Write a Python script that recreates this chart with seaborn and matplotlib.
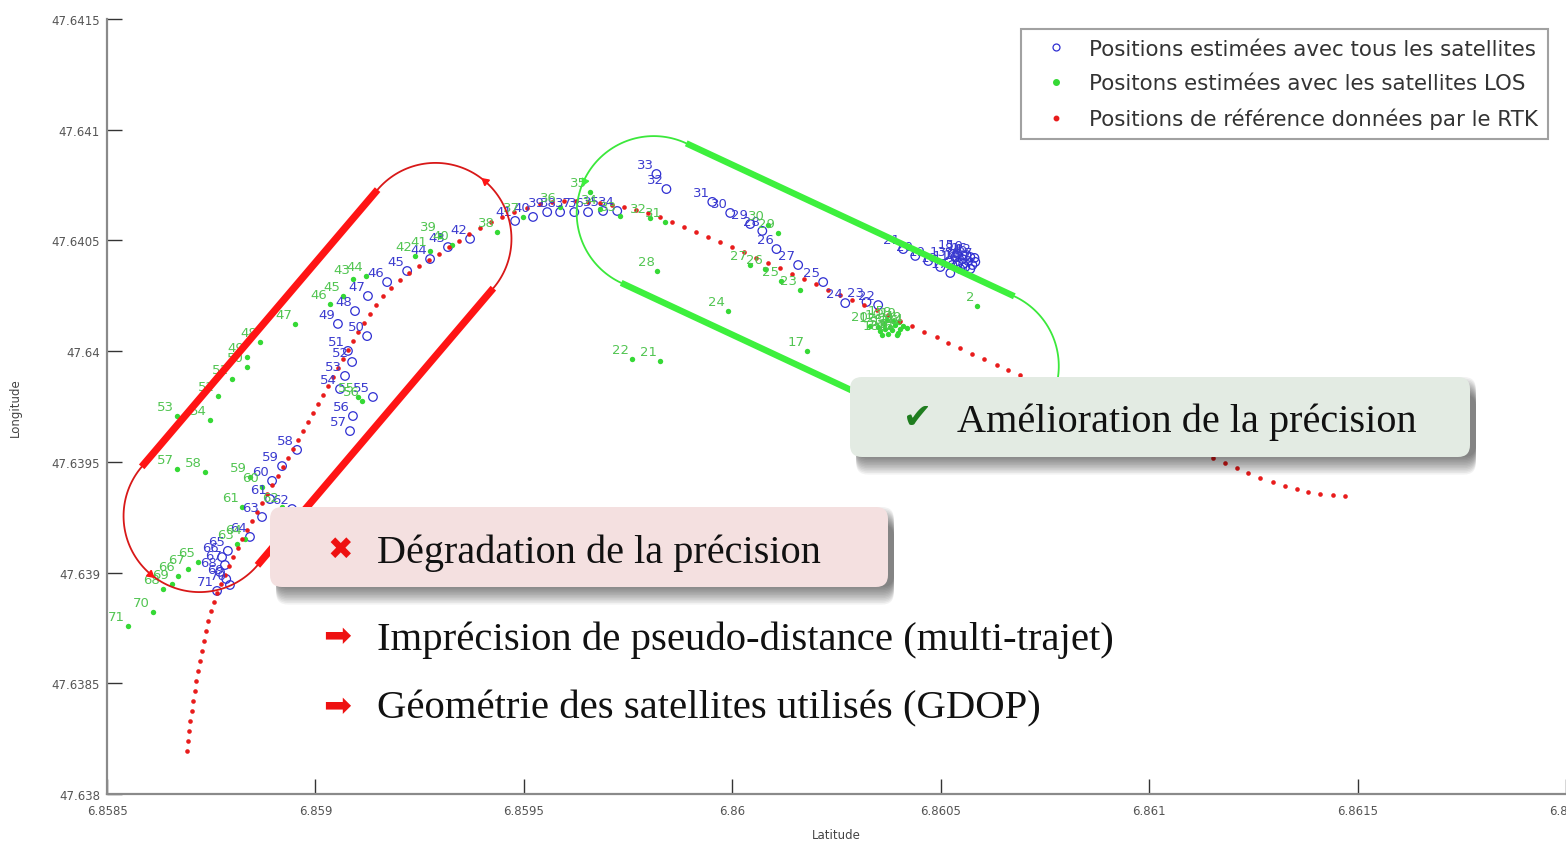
import matplotlib
matplotlib.use("Agg")
import numpy as np
import pandas as pd
import matplotlib.pyplot as plt
import matplotlib.transforms as mtransforms
from matplotlib.patches import FancyBboxPatch
from matplotlib.lines import Line2D
import seaborn as sns

# ---------------------------------------------------------------------------
# Data (degrees)
# ---------------------------------------------------------------------------
# Reference trajectory given by the RTK receiver
rtk_lon = [
    6.858692, 6.858694, 6.858697, 6.858699, 6.858704, 6.858706, 6.858711, 6.858714, 6.858718, 6.858723,
    6.858728, 6.858733, 6.858738, 6.858742, 6.858750, 6.858757, 6.858764, 6.858774, 6.858783, 6.858793,
    6.858802, 6.858814, 6.858824, 6.858836, 6.858848, 6.858860, 6.858872, 6.858884, 6.858896, 6.858910,
    6.858922, 6.858934, 6.858946, 6.858958, 6.858970, 6.858982, 6.858994, 6.859006, 6.859018, 6.859030,
    6.859042, 6.859054, 6.859066, 6.859078, 6.859090, 6.859102, 6.859117, 6.859131, 6.859146, 6.859162,
    6.859182, 6.859203, 6.859225, 6.859249, 6.859273, 6.859297, 6.859321, 6.859345, 6.859369, 6.859395,
    6.859422, 6.859448, 6.859477, 6.859508, 6.859539, 6.859568, 6.859597, 6.859626, 6.859654, 6.859683,
    6.859712, 6.859741, 6.859770, 6.859798, 6.859827, 6.859856, 6.859885, 6.859914, 6.859942, 6.859971,
    6.860000, 6.860029, 6.860058, 6.860086, 6.860115, 6.860144, 6.860173, 6.860202, 6.860230, 6.860259,
    6.860288, 6.860317, 6.860346, 6.860374, 6.860403, 6.860432, 6.860461, 6.860490, 6.860518, 6.860547,
    6.860576, 6.860605, 6.860634, 6.860662, 6.860691, 6.860720, 6.860749, 6.860778, 6.860806, 6.860835,
    6.860864, 6.860893, 6.860922, 6.860950, 6.860979, 6.861008, 6.861037, 6.861066, 6.861094, 6.861123,
    6.861152, 6.861181, 6.861210, 6.861238, 6.861267, 6.861296, 6.861325, 6.861354, 6.861382, 6.861411,
    6.861440, 6.861469,
]
rtk_lat = [
    47.638194, 47.638239, 47.638285, 47.638330, 47.638375, 47.638420, 47.638465, 47.638510, 47.638556, 47.638601,
    47.638646, 47.638691, 47.638736, 47.638781, 47.638827, 47.638867, 47.638908, 47.638948, 47.638989, 47.639030,
    47.639070, 47.639111, 47.639152, 47.639192, 47.639233, 47.639274, 47.639314, 47.639355, 47.639396, 47.639436,
    47.639477, 47.639517, 47.639558, 47.639599, 47.639639, 47.639680, 47.639721, 47.639761, 47.639802, 47.639843,
    47.639883, 47.639924, 47.639965, 47.640005, 47.640046, 47.640086, 47.640127, 47.640168, 47.640208, 47.640249,
    47.640285, 47.640321, 47.640353, 47.640384, 47.640412, 47.640439, 47.640470, 47.640497, 47.640529, 47.640556,
    47.640583, 47.640606, 47.640628, 47.640646, 47.640665, 47.640674, 47.640678, 47.640678, 47.640674, 47.640669,
    47.640660, 47.640651, 47.640637, 47.640624, 47.640606, 47.640583, 47.640561, 47.640538, 47.640516, 47.640493,
    47.640470, 47.640448, 47.640421, 47.640398, 47.640376, 47.640348, 47.640326, 47.640303, 47.640276, 47.640254,
    47.640231, 47.640208, 47.640186, 47.640163, 47.640136, 47.640114, 47.640086, 47.640064, 47.640037, 47.640014,
    47.639987, 47.639965, 47.639937, 47.639915, 47.639892, 47.639865, 47.639843, 47.639820, 47.639797, 47.639775,
    47.639748, 47.639725, 47.639703, 47.639680, 47.639658, 47.639635, 47.639612, 47.639585, 47.639563, 47.639540,
    47.639518, 47.639495, 47.639472, 47.639450, 47.639427, 47.639409, 47.639391, 47.639378, 47.639364, 47.639355,
    47.639350, 47.639346,
]

# Epochs 1..71 estimated with every tracked satellite
all_lon = [
    6.860576, 6.860566, 6.860559, 6.860552, 6.860571, 6.860542, 6.860583, 6.860535, 6.860547, 6.860562,
    6.860528, 6.860581, 6.860521, 6.860554, 6.860540, 6.860571, 6.860523, 6.860499, 6.860470, 6.860439,
    6.860410, 6.860350, 6.860322, 6.860271, 6.860218, 6.860106, 6.860158, 6.860072, 6.860043, 6.859995,
    6.859952, 6.859842, 6.859818, 6.859724, 6.859690, 6.859654, 6.859621, 6.859587, 6.859556, 6.859522,
    6.859479, 6.859371, 6.859318, 6.859275, 6.859220, 6.859172, 6.859126, 6.859095, 6.859054, 6.859124,
    6.859078, 6.859088, 6.859071, 6.859059, 6.859138, 6.859090, 6.859083, 6.858956, 6.858920, 6.858896,
    6.858891, 6.858944, 6.858872, 6.858843, 6.858790, 6.858776, 6.858783, 6.858771, 6.858786, 6.858795,
    6.858764,
]
all_lat = [
    47.640389, 47.640407, 47.640380, 47.640416, 47.640371, 47.640398, 47.640403, 47.640425, 47.640371, 47.640434,
    47.640389, 47.640421, 47.640407, 47.640394, 47.640439, 47.640425, 47.640353, 47.640380, 47.640407, 47.640430,
    47.640461, 47.640208, 47.640222, 47.640217, 47.640312, 47.640461, 47.640389, 47.640543, 47.640574, 47.640624,
    47.640674, 47.640732, 47.640800, 47.640633, 47.640633, 47.640628, 47.640628, 47.640628, 47.640628, 47.640606,
    47.640588, 47.640507, 47.640470, 47.640416, 47.640362, 47.640312, 47.640249, 47.640181, 47.640123, 47.640068,
    47.640001, 47.639951, 47.639888, 47.639829, 47.639793, 47.639707, 47.639639, 47.639554, 47.639481, 47.639414,
    47.639332, 47.639287, 47.639251, 47.639161, 47.639098, 47.639070, 47.639034, 47.639003, 47.638971, 47.638944,
    47.638917,
]

# Epochs 1..71 estimated with line-of-sight satellites only
los_lon = [
    6.860379, 6.860588, 6.860367, 6.860391, 6.860355, 6.860403, 6.860374, 6.860386, 6.860410, 6.860365,
    6.860398, 6.860350, 6.860382, 6.860418, 6.860372, 6.860394, 6.860180, 6.860360, 6.860401, 6.860331,
    6.859827, 6.859760, 6.860163, 6.859990, 6.860118, 6.860079, 6.860043, 6.859820, 6.860110, 6.860086,
    6.859839, 6.859803, 6.859731, 6.859683, 6.859659, 6.859587, 6.859498, 6.859436, 6.859299, 6.859328,
    6.859275, 6.859239, 6.859090, 6.859122, 6.859066, 6.859035, 6.858951, 6.858867, 6.858836, 6.858836,
    6.858800, 6.858766, 6.858668, 6.858747, 6.859102, 6.859112, 6.858668, 6.858735, 6.858843, 6.858872,
    6.858824, 6.858920, 6.858812, 6.858831, 6.858718, 6.858670, 6.858694, 6.858634, 6.858656, 6.858610,
    6.858550,
]
los_lat = [
    47.640109, 47.640204, 47.640100, 47.640118, 47.640091, 47.640100, 47.640078, 47.640136, 47.640114, 47.640123,
    47.640082, 47.640109, 47.640096, 47.640105, 47.640141, 47.640073, 47.640001, 47.640073, 47.640132, 47.640114,
    47.639956, 47.639965, 47.640276, 47.640181, 47.640317, 47.640371, 47.640389, 47.640362, 47.640534, 47.640570,
    47.640583, 47.640601, 47.640610, 47.640642, 47.640719, 47.640651, 47.640606, 47.640538, 47.640520, 47.640479,
    47.640452, 47.640430, 47.640326, 47.640339, 47.640249, 47.640213, 47.640123, 47.640041, 47.639974, 47.639928,
    47.639874, 47.639797, 47.639707, 47.639689, 47.639793, 47.639775, 47.639468, 47.639454, 47.639432, 47.639387,
    47.639296, 47.639296, 47.639129, 47.639152, 47.639048, 47.638985, 47.639016, 47.638926, 47.638948, 47.638822,
    47.638759,
]

x_ticks = [6.8585, 6.859, 6.8595, 6.86, 6.8605, 6.861, 6.8615, 6.862]
x_tick_labels = ["6.8585", "6.859", "6.8595", "6.86", "6.8605", "6.861", "6.8615", "6.862"]
y_ticks = [47.638, 47.6385, 47.639, 47.6395, 47.64, 47.6405, 47.641, 47.6415]
y_tick_labels = ["47.638", "47.6385", "47.639", "47.6395", "47.64", "47.6405", "47.641", "47.6415"]

legend_labels = [
    "Positions estimées avec tous les satellites",
    "Positons estimées avec les satellites LOS",
    "Positions de référence données par le RTK",
]

# ---------------------------------------------------------------------------
# Figure
# ---------------------------------------------------------------------------
sns.set_style("ticks")
plt.rcParams["font.family"] = ["DejaVu Sans"]

W, H = 1566, 845
fig = plt.figure(figsize=(W / 100, H / 100), dpi=100)
ax = fig.add_axes([107 / W, 1 - 795 / H, (W - 107) / W, 775 / H])

BLUE = "#2f2fd2"
GREEN = "#35d935"
RED = "#e81c1c"

df_all = pd.DataFrame({"lon": all_lon, "lat": all_lat, "epoch": range(1, len(all_lon) + 1)})
df_los = pd.DataFrame({"lon": los_lon, "lat": los_lat, "epoch": range(1, len(los_lon) + 1)})
df_rtk = pd.DataFrame({"lon": rtk_lon, "lat": rtk_lat})

sns.scatterplot(data=df_all, x="lon", y="lat", ax=ax, marker="o", s=38,
                edgecolor=BLUE, linewidth=0.9, zorder=3, legend=False)
ax.collections[-1].set_facecolor("none")
sns.scatterplot(data=df_los, x="lon", y="lat", ax=ax, marker="o", s=15,
                color=GREEN, edgecolor=GREEN, linewidth=0, zorder=3, legend=False)
sns.scatterplot(data=df_rtk, x="lon", y="lat", ax=ax, marker="o", s=11,
                color=RED, edgecolor=RED, linewidth=0, zorder=4, legend=False)

for _, r in df_all.iterrows():
    ax.annotate(str(int(r.epoch)), (r.lon, r.lat), xytext=(-2, 2), textcoords="offset points",
                ha="right", va="bottom", fontsize=9.5, color="#3b3bcf", zorder=5)
for _, r in df_los.iterrows():
    ax.annotate(str(int(r.epoch)), (r.lon, r.lat), xytext=(-2, 2), textcoords="offset points",
                ha="right", va="bottom", fontsize=9.5, color="#52c552", zorder=5)

ax.set_xlim(x_ticks[0], x_ticks[-1])
ax.set_ylim(y_ticks[0], y_ticks[-1])
ax.set_autoscale_on(False)
ax.set_xticks(x_ticks)
ax.set_xticklabels(x_tick_labels)
ax.set_yticks(y_ticks)
ax.set_yticklabels(y_tick_labels)
ax.tick_params(direction="in", length=11, width=1.0, color="#333333",
               labelsize=8.5, labelcolor="#555555")
ax.tick_params(axis="y", pad=5)
ax.tick_params(axis="x", pad=7)
ax.set_xlabel("Latitude", fontsize=8.5, color="#444444", labelpad=8)
ax.set_ylabel("Longitude", fontsize=8.5, color="#444444", labelpad=21)
sns.despine(ax=ax)
for s in ("left", "bottom"):
    ax.spines[s].set_color("#8a8a8a")
    ax.spines[s].set_linewidth(1.6)

# Legend
handles = [
    Line2D([], [], ls="none", marker="o", ms=5, mfc="none", mec=BLUE, mew=0.9),
    Line2D([], [], ls="none", marker="o", ms=4, mfc=GREEN, mec=GREEN),
    Line2D([], [], ls="none", marker="o", ms=3.2, mfc=RED, mec=RED),
]
leg = ax.legend(handles, legend_labels, loc="upper left",
                bbox_to_anchor=(1021 / W, 1 - 30 / H), bbox_transform=fig.transFigure,
                frameon=True, fancybox=False, fontsize=15.4, borderpad=0.45,
                handlelength=2.4, handletextpad=0.35, labelspacing=0.68, borderaxespad=0)
leg.get_frame().set_edgecolor("#8a8a8a")
leg.get_frame().set_linewidth(1.5)
for t in leg.get_texts():
    t.set_color("#333333")
leg.set_zorder(8)


# ---------------------------------------------------------------------------
# Highlighted zones (rounded bands drawn in screen pixels around a data anchor)
# ---------------------------------------------------------------------------
def draw_zone(center, half_len, radius, angle, thin_color, thick_color, thick_lw, apex_ends):
    tr = (mtransforms.Affine2D().rotate_deg(angle)
          + mtransforms.ScaledTranslation(center[0], center[1], ax.transData))
    th = np.linspace(-np.pi / 2, np.pi / 2, 80)
    ax.plot(half_len + radius * np.cos(th), radius * np.sin(th), color=thin_color,
            lw=1.3, transform=tr, clip_on=False, zorder=6)
    ax.plot(-half_len - radius * np.cos(th), radius * np.sin(th), color=thin_color,
            lw=1.3, transform=tr, clip_on=False, zorder=6)
    for side in (1, -1):
        ax.plot([-half_len, half_len], [side * radius, side * radius], color=thick_color,
                lw=thick_lw, solid_capstyle="butt", transform=tr, clip_on=False, zorder=6)
    for e in apex_ends:
        ax.plot([e * (half_len + radius)], [0], ls="none", marker=(3, 0, angle + (0 if e > 0 else 180)),
                ms=6, color=thick_color, transform=tr, clip_on=False, zorder=6)


draw_zone((6.859005, 47.639881), 182, 76, 49.6, "#d81818", "#ff1414", 5.2, (1, -1))
draw_zone((6.860205, 47.640278), 181, 77, -25.0, "#3be83b", "#3df03d", 4.6, (-1,))


# ---------------------------------------------------------------------------
# Slide call-outs
# ---------------------------------------------------------------------------
def callout(x, y_top, w, h, face):
    y = H - y_top - h
    for k in range(12):
        sh = FancyBboxPatch((x + 6, y - 1.6 * k), w, h,
                            boxstyle="round,pad=0,rounding_size=12",
                            transform=mtransforms.IdentityTransform(),
                            fc="black", ec="none", alpha=0.05, zorder=9)
        fig.add_artist(sh)
    box = FancyBboxPatch((x, y), w, h, boxstyle="round,pad=0,rounding_size=12",
                         transform=mtransforms.IdentityTransform(),
                         fc=face, ec="none", zorder=10)
    fig.add_artist(box)


callout(850, 378, 620, 80, "#e3ebe3")
callout(270, 508, 618, 80, "#f4e0e0")

serif = ["Liberation Serif", "DejaVu Serif"]
sym = ["DejaVu Sans"]
ident = mtransforms.IdentityTransform()

fig.text(918, H - 418, "\u2714", transform=ident, ha="center", va="center",
         fontsize=25, color="#1f7d1f", family=sym, zorder=11)
fig.text(957, H - 432, "Amélioration de la précision", transform=ident, ha="left",
         va="baseline", fontsize=29, color="#111111", family=serif, zorder=11)

fig.text(340, H - 550, "\u2716", transform=ident, ha="center", va="center",
         fontsize=22, color="#ee1111", family=sym, zorder=11)
fig.text(377, H - 563, "Dégradation de la précision", transform=ident, ha="left",
         va="baseline", fontsize=29, color="#111111", family=serif, zorder=11)

fig.text(337, H - 637, "\u27a1", transform=ident, ha="center", va="center",
         fontsize=24, color="#ee1111", family=sym, zorder=11)
fig.text(377, H - 650, "Imprécision de pseudo-distance (multi-trajet)", transform=ident,
         ha="left", va="baseline", fontsize=29.3, color="#111111", family=serif, zorder=11)

fig.text(337, H - 707, "\u27a1", transform=ident, ha="center", va="center",
         fontsize=24, color="#ee1111", family=sym, zorder=11)
fig.text(377, H - 718, "Géométrie des satellites utilisés (GDOP)", transform=ident,
         ha="left", va="baseline", fontsize=29.3, color="#111111", family=serif, zorder=11)

fig.savefig("out.png", dpi=100, facecolor="white")
